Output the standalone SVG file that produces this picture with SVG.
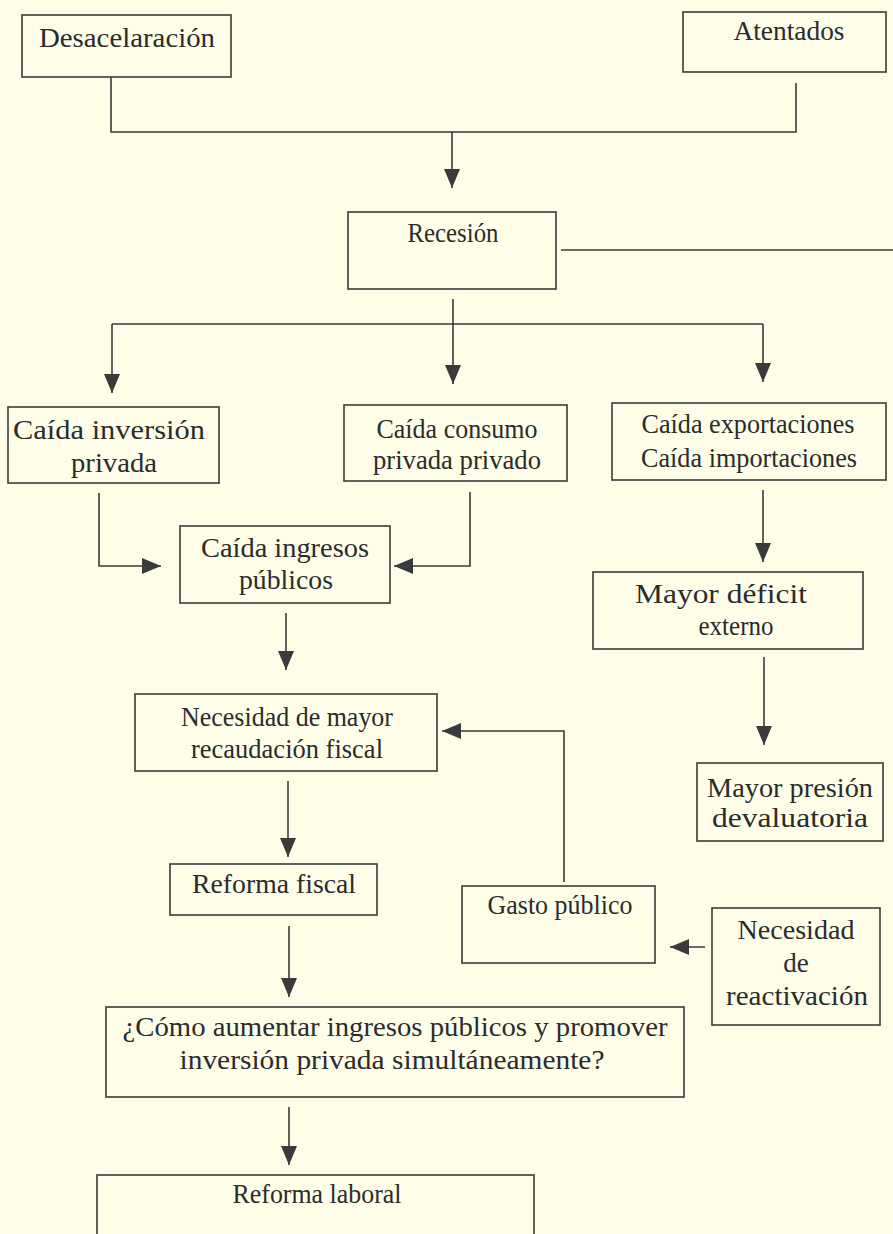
<svg xmlns="http://www.w3.org/2000/svg" width="893" height="1234" viewBox="0 0 893 1234">
<style>
.box{fill:none;stroke:#3a3a3a;stroke-width:1.6}
.ln{fill:none;stroke:#3a3a3a;stroke-width:1.6}
.t{font-family:"Liberation Serif","DejaVu Serif",serif;font-size:27px;fill:#2b2b2b;text-anchor:middle}
</style>
<defs>
<marker id="arr" viewBox="0 0 19 16" refX="19" refY="8" markerWidth="19" markerHeight="16" markerUnits="userSpaceOnUse" orient="auto">
<path d="M0,0 L19,8 L0,16 z" fill="#3a3a3a"/>
</marker>
</defs>
<rect width="893" height="1234" fill="#fdfde8"/>

<g id="connectors">
<path class="ln" d="M111,77 V132 H796 V83"/>
<path class="ln" d="M452,132 V188" marker-end="url(#arr)"/>
<path class="ln" d="M561,250 H893"/>
<path class="ln" d="M453,299 V384" marker-end="url(#arr)"/>
<path class="ln" d="M112,324 H763"/>
<path class="ln" d="M112,324 V393" marker-end="url(#arr)"/>
<path class="ln" d="M763,324 V382" marker-end="url(#arr)"/>
<path class="ln" d="M99,493 V566 H161" marker-end="url(#arr)"/>
<path class="ln" d="M470,492 V566 H394" marker-end="url(#arr)"/>
<path class="ln" d="M763,490 V562" marker-end="url(#arr)"/>
<path class="ln" d="M286,613 V670" marker-end="url(#arr)"/>
<path class="ln" d="M564,882 V731 H442" marker-end="url(#arr)"/>
<path class="ln" d="M764,657 V745" marker-end="url(#arr)"/>
<path class="ln" d="M288,781 V857" marker-end="url(#arr)"/>
<path class="ln" d="M705,947 H670" marker-end="url(#arr)"/>
<path class="ln" d="M289,926 V997" marker-end="url(#arr)"/>
<path class="ln" d="M289,1107 V1165" marker-end="url(#arr)"/>
</g>

<g id="n-desaceleracion">
<rect class="box" x="22" y="15" width="209" height="62"/>
<text class="t" x="127" y="47" textLength="176" lengthAdjust="spacingAndGlyphs">Desacelaración</text>
</g>
<g id="n-atentados">
<rect class="box" x="683" y="12" width="203" height="60"/>
<text class="t" x="789" y="40" textLength="111" lengthAdjust="spacingAndGlyphs">Atentados</text>
</g>
<g id="n-recesion">
<rect class="box" x="348" y="212" width="208" height="77"/>
<text class="t" x="453" y="242" textLength="91" lengthAdjust="spacingAndGlyphs">Recesión</text>
</g>
<g id="n-inversion">
<rect class="box" x="8" y="407" width="211" height="76"/>
<text class="t" x="109" y="439" textLength="192" lengthAdjust="spacingAndGlyphs">Caída inversión</text>
<text class="t" x="114" y="472" textLength="86" lengthAdjust="spacingAndGlyphs">privada</text>
</g>
<g id="n-consumo">
<rect class="box" x="344" y="405" width="223" height="76"/>
<text class="t" x="457" y="438" textLength="161" lengthAdjust="spacingAndGlyphs">Caída consumo</text>
<text class="t" x="457" y="469" textLength="168" lengthAdjust="spacingAndGlyphs">privada privado</text>
</g>
<g id="n-exportaciones">
<rect class="box" x="612" y="403" width="274" height="77"/>
<text class="t" x="748" y="433" textLength="213" lengthAdjust="spacingAndGlyphs">Caída exportaciones</text>
<text class="t" x="749" y="467" textLength="216" lengthAdjust="spacingAndGlyphs">Caída importaciones</text>
</g>
<g id="n-ingresos">
<rect class="box" x="180" y="526" width="210" height="77"/>
<text class="t" x="285" y="557" textLength="168" lengthAdjust="spacingAndGlyphs">Caída ingresos</text>
<text class="t" x="286" y="589" textLength="94" lengthAdjust="spacingAndGlyphs">públicos</text>
</g>
<g id="n-deficit">
<rect class="box" x="593" y="572" width="270" height="77"/>
<text class="t" x="721" y="603" textLength="172" lengthAdjust="spacingAndGlyphs">Mayor déficit</text>
<text class="t" x="736" y="635" textLength="75" lengthAdjust="spacingAndGlyphs">externo</text>
</g>
<g id="n-recaudacion">
<rect class="box" x="135" y="694" width="302" height="77"/>
<text class="t" x="287" y="726" textLength="212" lengthAdjust="spacingAndGlyphs">Necesidad de mayor</text>
<text class="t" x="287" y="758" textLength="192" lengthAdjust="spacingAndGlyphs">recaudación fiscal</text>
</g>
<g id="n-presion">
<rect class="box" x="697" y="763" width="186" height="78"/>
<text class="t" x="790" y="797" textLength="166" lengthAdjust="spacingAndGlyphs">Mayor presión</text>
<text class="t" x="790" y="827" textLength="156" lengthAdjust="spacingAndGlyphs">devaluatoria</text>
</g>
<g id="n-reforma-fiscal">
<rect class="box" x="170" y="864" width="207" height="51"/>
<text class="t" x="274" y="893" textLength="164" lengthAdjust="spacingAndGlyphs">Reforma fiscal</text>
</g>
<g id="n-gasto">
<rect class="box" x="462" y="886" width="193" height="77"/>
<text class="t" x="560" y="914" textLength="145" lengthAdjust="spacingAndGlyphs">Gasto público</text>
</g>
<g id="n-reactivacion">
<rect class="box" x="712" y="908" width="168" height="117"/>
<text class="t" x="796" y="939" textLength="117" lengthAdjust="spacingAndGlyphs">Necesidad</text>
<text class="t" x="796" y="972">de</text>
<text class="t" x="797" y="1005" textLength="142" lengthAdjust="spacingAndGlyphs">reactivación</text>
</g>
<g id="n-pregunta">
<rect class="box" x="106" y="1007" width="578" height="90"/>
<text class="t" x="395" y="1036" textLength="545" lengthAdjust="spacingAndGlyphs">¿Cómo aumentar ingresos públicos y promover</text>
<text class="t" x="392" y="1069" textLength="425" lengthAdjust="spacingAndGlyphs">inversión privada simultáneamente?</text>
</g>
<g id="n-reforma-laboral">
<rect class="box" x="97" y="1175" width="437" height="80"/>
<text class="t" x="317" y="1203" textLength="169" lengthAdjust="spacingAndGlyphs">Reforma laboral</text>
</g>
</svg>
